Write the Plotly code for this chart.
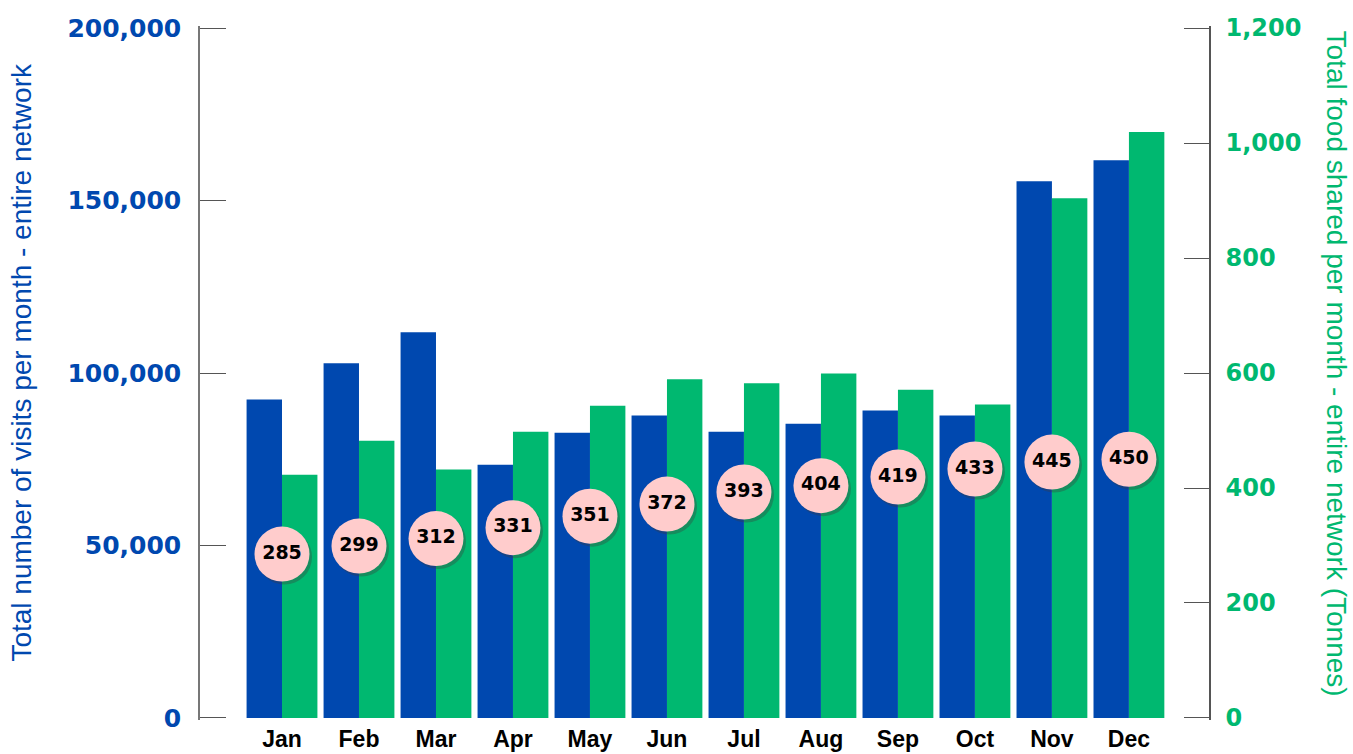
import plotly.graph_objects as go

months = ["Jan", "Feb", "Mar", "Apr", "May", "Jun", "Jul", "Aug", "Sep", "Oct", "Nov", "Dec"]
visits = [92300, 102800, 111800, 73400, 82700, 87700, 83000, 85300, 89100, 87700, 155600, 161700]
food_tonnes = [423, 482, 432, 498, 543, 589, 582, 599, 571, 545, 904, 1019]
circle_values = [285, 299, 312, 331, 351, 372, 393, 404, 419, 433, 445, 450]

left_ticks = [0, 50000, 100000, 150000, 200000]
right_ticks = [0, 200, 400, 600, 800, 1000, 1200]

BLUE = "#0048AF"
GREEN = "#00B870"
PINK = "#FFCCCC"

XR = [-1.065, 12.04]
# ranges padded by ~2px so the end ticks are drawn
YR1 = [-600, 200600]
YR2 = [-3.5, 1203.5]
px_per_cat = 77.0
px_per_unit_y2 = 694.0 / (YR2[1] - YR2[0])
sdx = 2.5 / px_per_cat
sdy = 3.0 / px_per_unit_y2

fig = go.Figure()
fig.add_trace(go.Bar(x=months, y=visits, marker=dict(color=BLUE, line=dict(width=0)),
                     width=0.46, offset=-0.46, xaxis="x", yaxis="y", showlegend=False))
fig.add_trace(go.Bar(x=months, y=food_tonnes, marker=dict(color=GREEN, line=dict(width=0)),
                     width=0.46, offset=0.0, xaxis="x", yaxis="y2", showlegend=False))
# soft shadow under the circles
fig.add_trace(go.Scatter(x=months, y=circle_values, mode="markers",
                         marker=dict(size=55, color="rgba(60,60,60,0.35)", line=dict(width=0)),
                         xaxis="x2", yaxis="y3", showlegend=False, hoverinfo="skip"))
fig.add_trace(go.Scatter(x=months, y=circle_values, mode="markers+text",
                         text=[str(v) for v in circle_values], textposition="middle center",
                         textfont=dict(family="DejaVu Sans", size=19, color="#000000", weight="bold"),
                         marker=dict(size=55, color=PINK, line=dict(width=0)),
                         xaxis="x3", yaxis="y4", showlegend=False))

axis_title_font = dict(family="Liberation Sans, Arial, sans-serif", size=28)

fig.update_layout(
    width=1353, height=754,
    margin=dict(l=200, r=144, t=26, b=34, autoexpand=False),
    paper_bgcolor="white", plot_bgcolor="white",
    barmode="overlay",
    xaxis=dict(type="category", range=XR, showline=False, showgrid=False, zeroline=False,
               ticks="", ticklabelstandoff=3, automargin=False,
               tickfont=dict(family="Liberation Sans, Arial, sans-serif", size=23, color="#000000", weight="bold")),
    xaxis2=dict(type="category", range=[XR[0] - sdx, XR[1] - sdx], overlaying="x", visible=False),
    xaxis3=dict(type="category", range=XR, overlaying="x", visible=False),
    yaxis=dict(range=YR1, tickvals=left_ticks, tickformat=",d", side="left",
               showline=True, linecolor="#777777", linewidth=1.5, automargin=False,
               ticks="inside", ticklen=26, tickwidth=1.3, tickcolor="#555555",
               ticklabelstandoff=12, showgrid=False, zeroline=False,
               tickfont=dict(family="DejaVu Sans", size=25, color=BLUE, weight="bold")),
    yaxis2=dict(range=YR2, tickvals=right_ticks, tickformat=",d", overlaying="y", side="right",
                showline=True, linecolor="#555555", linewidth=1.5, automargin=False,
                ticks="inside", ticklen=25, tickwidth=1.3, tickcolor="#555555",
                ticklabelstandoff=10, showgrid=False, zeroline=False,
                tickfont=dict(family="DejaVu Sans", size=24, color=GREEN, weight="bold")),
    yaxis3=dict(range=[YR2[0] + sdy, YR2[1] + sdy], overlaying="y", visible=False),
    yaxis4=dict(range=YR2, overlaying="y", visible=False),
    annotations=[
        dict(text="Total number of visits per month - entire network", xref="paper", yref="paper",
             x=-0.1764, y=0.515, xanchor="center", yanchor="middle", textangle=-90, showarrow=False,
             font=dict(color=BLUE, **axis_title_font)),
        dict(text="Total food shared per month - entire network (Tonnes)", xref="paper", yref="paper",
             x=1.1263, y=0.513, xanchor="center", yanchor="middle", textangle=90, showarrow=False,
             font=dict(color=GREEN, **axis_title_font)),
    ],
)

fig.write_html("out.html", config={"displayModeBar": False},
               post_script="document.body.style.margin='0';")
